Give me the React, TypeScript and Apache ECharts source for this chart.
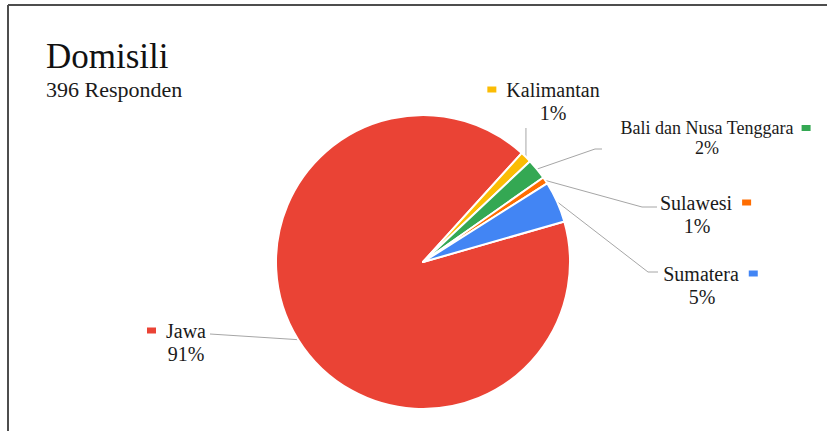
import React, { useEffect, useRef } from 'react';
import * as echarts from 'echarts';

const TITLE = 'Domisili';
const SUBTITLE = '396 Responden';
const regions = ['Jawa', 'Kalimantan', 'Bali dan Nusa Tenggara', 'Sulawesi', 'Sumatera'];
const respondents = [361, 5, 9, 3, 18];
const sliceColors = ['#EA4335', '#FBBC04', '#34A853', '#FF6D01', '#4285F4'];
const markerSide = ['left', 'left', 'right', 'right', 'right'];
const smallLabel = [false, false, true, false, false];

// label placement (layout only)
const labelPlacement: { x: number; y: number; line: (number | null)[][] }[] = [
  { x: 186, y: 342, line: [[210, 334], [210, 334]] },
  { x: 553, y: 101, line: [[null, 128], [null, 128]] },
  { x: 707, y: 138, line: [[595, 149], [602, 149]] },
  { x: 697, y: 214, line: [[642, 207], [657, 207]] },
  { x: 702, y: 285, line: [[648, 272], [658, 272]] },
];

const FONT = 'Liberation Serif';

export default function App() {
  const ref = useRef<HTMLDivElement>(null);
  useEffect(() => {
    if (!ref.current) return;
    const chart = echarts.init(ref.current, undefined, { renderer: 'svg' });
    const rich: any = {
      g: { width: 10 },
      bl: { width: 19 },
      br: { width: 17 },
      t: { fontSize: 20, fontFamily: FONT, color: '#1a1a1a', lineHeight: 23 },
      p: { fontSize: 20, fontFamily: FONT, color: '#1a1a1a', lineHeight: 23 },
      ts: { fontSize: 18, fontFamily: FONT, color: '#1a1a1a', lineHeight: 20 },
      ps: { fontSize: 18, fontFamily: FONT, color: '#1a1a1a', lineHeight: 20 },
      gs: { width: 8 },
    };
    sliceColors.forEach((c, i) => {
      rich['m' + i] = { width: 9, height: 6, backgroundColor: c, verticalAlign: 'middle' };
    });
    const data = regions.map((name, i) => ({
      name,
      value: respondents[i],
      itemStyle: { color: sliceColors[i] },
    }));
    chart.setOption({
      animation: false,
      graphic: [
        { type: 'line', shape: { x1: 8, y1: 5, x2: 827, y2: 5 }, style: { stroke: '#4d4d4d', lineWidth: 2 } },
        { type: 'line', shape: { x1: 8, y1: 5, x2: 8, y2: 431 }, style: { stroke: '#4d4d4d', lineWidth: 2 } },
        {
          type: 'text', left: 46, top: 39,
          style: { text: TITLE, fontSize: 35, fontFamily: FONT, fill: '#111' },
        },
        {
          type: 'text', left: 46, top: 78,
          style: { text: SUBTITLE, fontSize: 22, fontFamily: FONT, fill: '#1a1a1a' },
        },
      ],
      series: [
        {
          type: 'pie',
          center: [423, 262],
          radius: 147,
          startAngle: 16,
          clockwise: true,
          silent: true,
          avoidLabelOverlap: false,
          itemStyle: { borderColor: '#ffffff', borderWidth: 2 },
          emphasis: { disabled: true },
          label: {
            show: true,
            position: 'outside',
            align: 'center',
            rich,
            formatter: (p: any) => {
              const i = p.dataIndex;
              const pct = Math.round(p.percent) + '%';
              const small = smallLabel[i];
              const t = small ? 'ts' : 't';
              const pp = small ? 'ps' : 'p';
              const gap = small ? 'gs' : 'g';
              const line1 = markerSide[i] === 'left'
                ? `{m${i}|}{${gap}|}{${t}|${p.name}}{bl|}`
                : `{br|}{${t}|${p.name}}{${gap}|}{m${i}|}`;
              return `${line1}\n{${pp}|${pct}}`;
            },
          },
          labelLine: {
            show: true,
            lineStyle: { color: '#a6a6a6', width: 1 },
          },
          labelLayout: (params: any) => {
            const i = params.dataIndex;
            const pl = labelPlacement[i];
            const p0 = params.labelLinePoints ? params.labelLinePoints[0] : [0, 0];
            const pts = [p0.slice()].concat(
              pl.line.map((pt) => [pt[0] == null ? p0[0] : pt[0], pt[1] == null ? p0[1] : pt[1]])
            );
            return {
              x: pl.x,
              y: pl.y,
              align: 'center',
              verticalAlign: 'middle',
              labelLinePoints: pts,
            };
          },
          data,
        },
      ],
    });
    return () => chart.dispose();
  }, []);
  return (
    <div
      ref={ref}
      style={{ position: 'fixed', left: 0, top: 0, width: 827, height: 431, background: '#fff' }}
    />
  );
}
